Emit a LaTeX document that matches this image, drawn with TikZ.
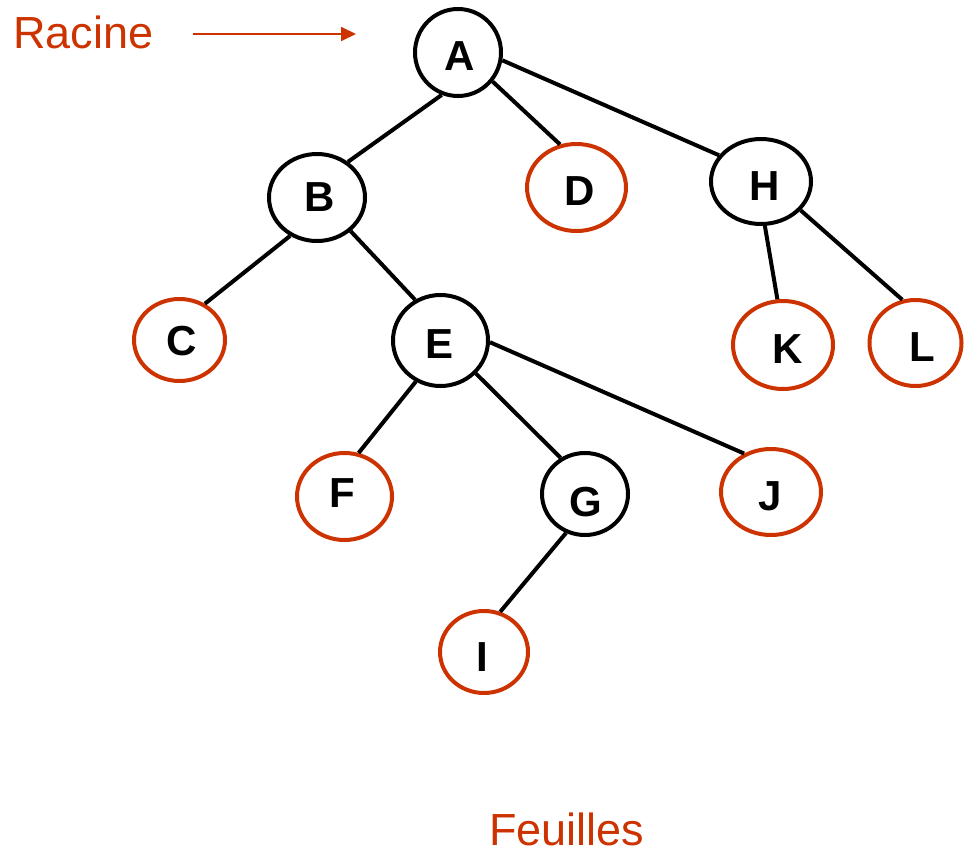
\documentclass[tikz,border=0pt]{standalone}
\usepackage{fontspec}
\setmainfont{Liberation Sans}
\usetikzlibrary{shapes.geometric,arrows.meta}
\definecolor{leafred}{RGB}{204,51,0}

\tikzset{
  treenode/.style={ellipse, draw=black, line width=4pt, inner sep=0pt,
    font=\fontsize{42}{50}\selectfont\bfseries, text=black, text depth=0pt},
  leafnode/.style={treenode, draw=leafred},
  % size of the ellipse and height of the text box (moves the letter vertically)
  sz/.style n args={3}{minimum width=#1pt, minimum height=#2pt, text height=#3pt},
  branch/.style={line width=4pt, black},
  caption/.style={font=\fontsize{45}{54}\selectfont, text=leafred, inner sep=0pt, anchor=base west},
  rootarrow/.style={line width=2pt, leafred, -{Triangle[length=15pt,width=14pt]}}
}
\newcommand\letteroffset[1]{\hspace{#1}}

\begin{document}
\begin{tikzpicture}[x=1pt, y=-1pt]
  \useasboundingbox (0,0) rectangle (964,854);

  % tree nodes: inner nodes in black, leaves in red
  \node[treenode, sz={86}{87}{36}]  (A) at (458,52.5)   {\letteroffset{4pt}A};
  \node[treenode, sz={96}{87}{28}]  (B) at (317,197.5)  {\letteroffset{6pt}B};
  \node[leafnode, sz={91}{82}{30}]  (C) at (179.5,340)  {\letteroffset{5pt}C};
  \node[leafnode, sz={99}{87}{36}]  (D) at (576.5,187.5){\letteroffset{7pt}D};
  \node[treenode, sz={95}{91}{36}]  (E) at (440.5,340.5){\letteroffset{-2pt}E};
  \node[leafnode, sz={95}{87}{22}]  (F) at (344.5,496.5){\letteroffset{-4pt}F};
  \node[treenode, sz={86}{82}{45}]  (G) at (585,494)    {\letteroffset{2pt}G};
  \node[treenode, sz={100}{85}{37}] (H) at (761,181.5)  {\letteroffset{8pt}H};
  \node[leafnode, sz={88}{82}{38}]  (I) at (484,652)    {\letteroffset{-3pt}I};
  \node[leafnode, sz={100}{86}{37}] (J) at (771,492)    {\letteroffset{-2pt}J};
  \node[leafnode, sz={100}{88}{36}] (K) at (783,345)    {\letteroffset{10pt}K};
  \node[leafnode, sz={92}{86}{37}]  (L) at (915.5,343)  {\letteroffset{13pt}L};

  % branches
  \draw[branch] (A.249) -- (B.49);
  \draw[branch] (A.-40) -- (D.111);
  \draw[branch] (A.-10) -- (H.148);
  \draw[branch] (B.235) -- (C.55);
  \draw[branch] (B.-45) -- (E.122);
  \draw[branch] (E.239) -- (F.72);
  \draw[branch] (E.-43) -- (G.124);
  \draw[branch] (E.-2)  -- (J.125);
  \draw[branch] (G.244) -- (I.68);
  \draw[branch] (H.-85) -- (K.97);
  \draw[branch] (H.-36) -- (L.107);

  % captions
  \node[caption] (racine) at (13,48) {Racine};
  \node[caption] (feuilles) at (489,845) {Feuilles};

  \coordinate (arrowstart) at (193,34);
  \coordinate (arrowend) at (356,34);
  \draw[rootarrow] (arrowstart) -- (arrowend);
\end{tikzpicture}
\end{document}
